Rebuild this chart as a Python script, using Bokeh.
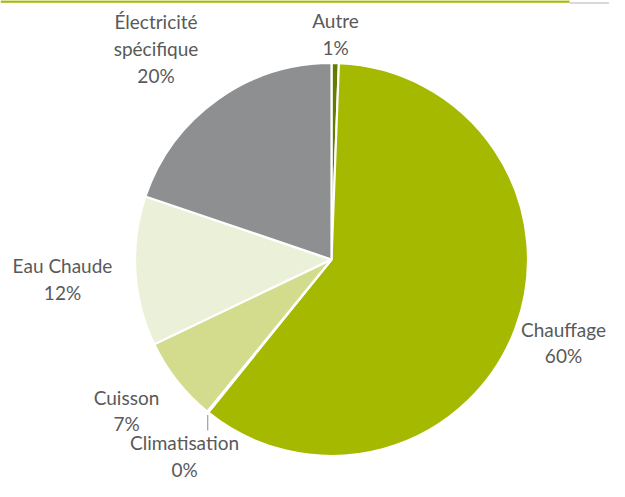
import math
from bokeh.plotting import figure
from bokeh.models import Range1d, ColumnDataSource
from bokeh.core.properties import value
from bokeh.embed import file_html
from bokeh.resources import INLINE

# ---- data ----
categories = ["Autre", "Chauffage", "Climatisation", "Cuisson", "Eau Chaude", "Électricité spécifique"]
shares = [0.6, 60.2, 0.1, 7.0, 12.3, 19.8]
label_lines = [["Autre"], ["Chauffage"], ["Climatisation"], ["Cuisson"], ["Eau Chaude"], ["Électricité", "spécifique"]]
colors = ["#617c00", "#a5b900", "#8c8c8c", "#d3dc8c", "#ebf1d8", "#8e8f91"]

# ---- layout (pixels; label positions given from the top-left corner) ----
W, H = 609, 481
CX, CY_TOP, R = 331, 259, 196.5
label_pos = [(335, 33.5), (563, 342), (184, 455.5), (126, 410), (62, 278.5), (155.5, 48)]
LINE_H = 26.8
LEADER_END = 430
FONT = "Lato"
FONT_SIZE = "19px"
TEXT_COLOR = "#595959"

def ty_of(y_top):
    return H - y_top

p = figure(width=W, height=H, x_range=Range1d(0, W), y_range=Range1d(0, H),
           output_backend="svg", toolbar_location=None, min_border=0)
p.axis.visible = False
p.grid.visible = False
p.outline_line_color = None
p.background_fill_color = "white"
p.border_fill_color = "white"

# decorative rule at top
p.line([0, 569], [ty_of(1), ty_of(1)], line_color="#a5b900", line_width=2.5)
p.line([569, W], [ty_of(2.5), ty_of(2.5)], line_color="#d9d9d9", line_width=2)

total = sum(shares)
starts, ends, mids = [], [], []
cum = 0.0
for s in shares:
    a0 = math.pi / 2 - 2 * math.pi * cum / total
    cum += s
    a1 = math.pi / 2 - 2 * math.pi * cum / total
    starts.append(a0)
    ends.append(a1)
    mids.append((a0 + a1) / 2)

CY = ty_of(CY_TOP)
src = ColumnDataSource(dict(start=starts, end=ends, color=colors, cat=categories))
p.wedge(x=CX, y=CY, radius=R, start_angle="start", end_angle="end", direction="clock",
        fill_color="color", line_color="white", line_width=2.2, source=src)

# leader line for Climatisation
i = categories.index("Climatisation")
ex = CX + R * math.cos(mids[i])
ey = CY + R * math.sin(mids[i])
p.line([ex, ex], [ey - 3, ty_of(LEADER_END)], line_color="#a6a6a6", line_width=1.3)

# labels
tx, ty, tt = [], [], []
for k, (cat, lines) in enumerate(zip(categories, label_lines)):
    pct = f"{round(shares[k] / total * 100):.0f}%"
    all_lines = lines + [pct]
    lx, ly = label_pos[k]
    n = len(all_lines)
    for j, t in enumerate(all_lines):
        yy = ly + (j - (n - 1) / 2) * LINE_H
        tx.append(lx)
        ty.append(ty_of(yy))
        tt.append(t)

p.text(x=tx, y=ty, text=tt, text_font=value(FONT), text_font_size=FONT_SIZE,
       text_color=TEXT_COLOR, text_align="center", text_baseline="middle")

open("out.html", "w").write(file_html(p, INLINE))
